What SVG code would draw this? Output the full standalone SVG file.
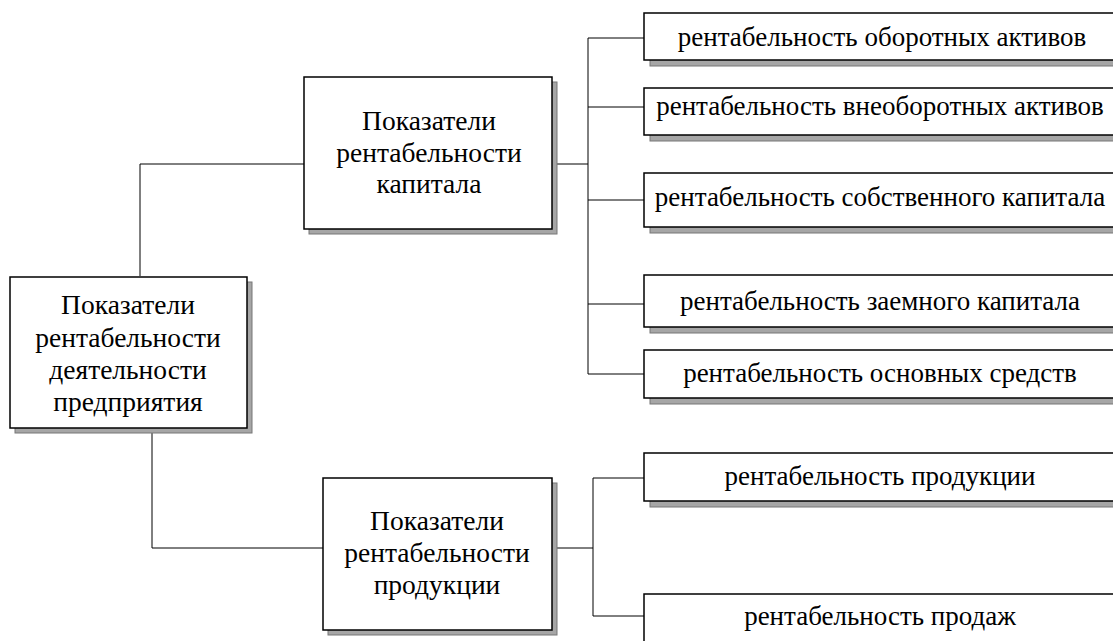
<svg xmlns="http://www.w3.org/2000/svg" width="1113" height="641" viewBox="0 0 1113 641">
<style>
.sh{fill:#a6a6a6;stroke:#777;stroke-width:1}
.bx{fill:#fff;stroke:#000;stroke-width:1.5}
.c{fill:none;stroke:#000;stroke-width:1}
</style>
<rect width="1113" height="641" fill="#fff"/>
<g id="connectors">
<path class="c" d="M140 276V164H304M552 164H588M588 38V374M588 38H644M588 107H644M588 200H644M588 304H644M588 374H644"/>
<path class="c" d="M152 428V548H323M552 548H593M593 478V616M593 478H644M593 616H644"/>
</g>
<g font-family="Liberation Serif" font-size="27.5" text-anchor="middle" fill="#000">
<g id="n-main">
<rect class="sh" x="15" y="282" width="237" height="151"/>
<rect class="bx" x="10" y="277" width="237" height="151"/>
<text x="128" y="314">Показатели</text>
<text x="128" y="347">рентабельности</text>
<text x="128" y="379">деятельности</text>
<text x="128" y="411">предприятия</text>
</g>
<g id="n-capital">
<rect class="sh" x="309" y="82" width="248" height="152"/>
<rect class="bx" x="304" y="77" width="248" height="152"/>
<text x="429" y="130">Показатели</text>
<text x="429" y="162">рентабельности</text>
<text x="429" y="193">капитала</text>
</g>
<g id="n-product">
<rect class="sh" x="328" y="483" width="229" height="152"/>
<rect class="bx" x="323" y="478" width="229" height="152"/>
<text x="437" y="530">Показатели</text>
<text x="437" y="562">рентабельности</text>
<text x="437" y="594">продукции</text>
</g>
</g>
<g font-family="Liberation Serif" font-size="27" text-anchor="middle" fill="#000">
<g id="n-r1">
<rect class="sh" x="650" y="19" width="480" height="47"/>
<rect class="bx" x="644" y="13" width="480" height="47"/>
<text x="882" y="46">рентабельность оборотных активов</text>
</g>
<g id="n-r2">
<rect class="sh" x="650" y="94" width="480" height="47"/>
<rect class="bx" x="644" y="88" width="480" height="47"/>
<text x="880" y="115">рентабельность внеоборотных активов</text>
</g>
<g id="n-r3">
<rect class="sh" x="650" y="179" width="480" height="54"/>
<rect class="bx" x="644" y="173" width="480" height="54"/>
<text x="880" y="206">рентабельность собственного капитала</text>
</g>
<g id="n-r4">
<rect class="sh" x="650" y="281" width="480" height="52"/>
<rect class="bx" x="644" y="275" width="480" height="52"/>
<text x="880" y="310">рентабельность заемного капитала</text>
</g>
<g id="n-r5">
<rect class="sh" x="650" y="356" width="480" height="48"/>
<rect class="bx" x="644" y="350" width="480" height="48"/>
<text x="880" y="382">рентабельность основных средств</text>
</g>
<g id="n-r6">
<rect class="sh" x="650" y="459" width="480" height="48"/>
<rect class="bx" x="644" y="453" width="480" height="48"/>
<text x="880" y="485">рентабельность продукции</text>
</g>
<g id="n-r7">
<rect class="sh" x="650" y="600" width="480" height="48"/>
<rect class="bx" x="644" y="594" width="480" height="48"/>
<text x="880" y="625">рентабельность продаж</text>
</g>
</g>
</svg>
